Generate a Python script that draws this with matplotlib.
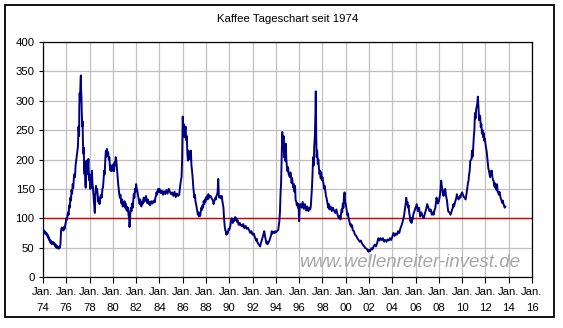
import numpy as np
import matplotlib
matplotlib.use("Agg")
import matplotlib.pyplot as plt
from matplotlib.patches import Rectangle

plt.rcParams["font.family"] = ["Liberation Sans", "DejaVu Sans"]

TITLE = "Kaffee Tageschart seit 1974"
WATERMARK = "www.wellenreiter-invest.de"

# coffee price (US cents / lb), time as decimal year
years = [
    1974.0, 1974.05, 1974.1, 1974.15, 1974.2, 1974.25, 1974.3, 1974.35, 1974.4, 1974.45,
    1974.5, 1974.55, 1974.6, 1974.65, 1974.7, 1974.75, 1974.8, 1974.85, 1974.9, 1974.95,
    1975.0, 1975.05, 1975.1, 1975.15, 1975.2, 1975.25, 1975.3, 1975.35, 1975.4, 1975.45,
    1975.5, 1975.55, 1975.6, 1975.65, 1975.7, 1975.75, 1975.8, 1975.85, 1975.9, 1975.95,
    1976.0, 1976.05, 1976.1, 1976.15, 1976.2, 1976.25, 1976.3, 1976.35, 1976.4, 1976.45,
    1976.5, 1976.55, 1976.6, 1976.65, 1976.7, 1976.75, 1976.8, 1976.85, 1976.9, 1976.95,
    1977.0, 1977.05, 1977.1, 1977.12, 1977.15, 1977.18, 1977.22, 1977.25, 1977.27, 1977.3,
    1977.33, 1977.37, 1977.4, 1977.43, 1977.47, 1977.5, 1977.53, 1977.57, 1977.6, 1977.63,
    1977.67, 1977.7, 1977.73, 1977.77, 1977.8, 1977.85, 1977.9, 1977.95,
    1978.0, 1978.05, 1978.1, 1978.15, 1978.2, 1978.25, 1978.3, 1978.35, 1978.4, 1978.45,
    1978.5, 1978.55, 1978.6, 1978.65, 1978.7, 1978.75, 1978.8, 1978.85, 1978.9, 1978.95,
    1979.0, 1979.05, 1979.1, 1979.15, 1979.2, 1979.25, 1979.3, 1979.35, 1979.4, 1979.45,
    1979.5, 1979.55, 1979.6, 1979.65, 1979.7, 1979.75, 1979.8, 1979.85, 1979.9, 1979.95,
    1980.0, 1980.05, 1980.1, 1980.15, 1980.2, 1980.25, 1980.3, 1980.35, 1980.4, 1980.45,
    1980.5, 1980.55, 1980.6, 1980.65, 1980.7, 1980.75, 1980.8, 1980.85, 1980.9, 1980.95,
    1981.0, 1981.05, 1981.1, 1981.15, 1981.2, 1981.25, 1981.3, 1981.35, 1981.4, 1981.43,
    1981.47, 1981.5, 1981.55, 1981.6, 1981.65, 1981.7, 1981.75, 1981.8, 1981.85, 1981.9, 1981.95,
    1982.0, 1982.05, 1982.1, 1982.15, 1982.2, 1982.25, 1982.3, 1982.35, 1982.4, 1982.45,
    1982.5, 1982.55, 1982.6, 1982.65, 1982.7, 1982.75, 1982.8, 1982.85, 1982.9, 1982.95,
    1983.0, 1983.1, 1983.15, 1983.2, 1983.3, 1983.4, 1983.5, 1983.6, 1983.65, 1983.7,
    1983.75, 1983.8, 1983.85, 1983.9, 1983.95,
    1984.0, 1984.1, 1984.2, 1984.3, 1984.4, 1984.5, 1984.6, 1984.7, 1984.8, 1984.9,
    1985.0, 1985.1, 1985.2, 1985.3, 1985.4, 1985.5, 1985.6, 1985.7, 1985.75, 1985.8,
    1985.85, 1985.9, 1985.95,
    1986.0, 1986.05, 1986.1, 1986.15, 1986.2, 1986.25, 1986.3, 1986.35, 1986.4, 1986.45,
    1986.5, 1986.55, 1986.6, 1986.65, 1986.7, 1986.75, 1986.8, 1986.85, 1986.9, 1986.95,
    1987.0, 1987.05, 1987.1, 1987.15, 1987.2, 1987.25, 1987.3, 1987.35, 1987.4, 1987.45,
    1987.5, 1987.55, 1987.6, 1987.65, 1987.7, 1987.75, 1987.8, 1987.85, 1987.9, 1987.95,
    1988.0, 1988.1, 1988.15, 1988.2, 1988.3, 1988.4, 1988.5, 1988.6, 1988.65, 1988.7,
    1988.8, 1988.85, 1988.9, 1988.95,
    1989.0, 1989.05, 1989.1, 1989.15, 1989.2, 1989.3, 1989.35, 1989.4, 1989.45, 1989.5,
    1989.55, 1989.6, 1989.65, 1989.7, 1989.75, 1989.8, 1989.85, 1989.9, 1989.95,
    1990.0, 1990.1, 1990.15, 1990.2, 1990.25, 1990.3, 1990.35, 1990.4, 1990.5, 1990.55,
    1990.6, 1990.65, 1990.7, 1990.8, 1990.9, 1990.95,
    1991.0, 1991.1, 1991.2, 1991.3, 1991.4, 1991.5, 1991.6, 1991.7, 1991.8, 1991.9,
    1992.0, 1992.1, 1992.2, 1992.3, 1992.35, 1992.4, 1992.5, 1992.6, 1992.65, 1992.7,
    1992.8, 1992.9, 1992.95,
    1993.0, 1993.05, 1993.1, 1993.2, 1993.25, 1993.3, 1993.4, 1993.5, 1993.6, 1993.65,
    1993.7, 1993.8, 1993.9, 1993.95,
    1994.0, 1994.1, 1994.2, 1994.3, 1994.35, 1994.4, 1994.45, 1994.5, 1994.55, 1994.58,
    1994.62, 1994.66, 1994.7, 1994.75, 1994.8, 1994.85, 1994.9, 1994.95,
    1995.0, 1995.05, 1995.1, 1995.2, 1995.25, 1995.3, 1995.35, 1995.4, 1995.45, 1995.5,
    1995.55, 1995.6, 1995.65, 1995.7, 1995.75, 1995.8, 1995.85, 1995.9, 1995.95,
    1996.0, 1996.05, 1996.1, 1996.2, 1996.3, 1996.4, 1996.5, 1996.6, 1996.7, 1996.8,
    1996.9, 1996.95,
    1997.0, 1997.05, 1997.1, 1997.15, 1997.2, 1997.25, 1997.3, 1997.35, 1997.4, 1997.43,
    1997.46, 1997.5, 1997.55, 1997.6, 1997.65, 1997.7, 1997.75, 1997.8, 1997.85, 1997.9,
    1997.95,
    1998.0, 1998.05, 1998.1, 1998.15, 1998.2, 1998.25, 1998.3, 1998.35, 1998.4, 1998.45,
    1998.5, 1998.55, 1998.6, 1998.7, 1998.8, 1998.9,
    1999.0, 1999.1, 1999.2, 1999.3, 1999.4, 1999.5, 1999.55, 1999.6, 1999.65, 1999.7,
    1999.75, 1999.8, 1999.85, 1999.9, 1999.95,
    2000.0, 2000.05, 2000.1, 2000.15, 2000.2, 2000.25, 2000.3, 2000.35, 2000.4, 2000.45,
    2000.5, 2000.55, 2000.6, 2000.7, 2000.8, 2000.9,
    2001.0, 2001.1, 2001.2, 2001.3, 2001.4, 2001.5, 2001.6, 2001.7, 2001.8, 2001.9, 2001.95,
    2002.0, 2002.1, 2002.2, 2002.3, 2002.4, 2002.5, 2002.6, 2002.7, 2002.8, 2002.9,
    2003.0, 2003.1, 2003.2, 2003.3, 2003.4, 2003.5, 2003.6, 2003.7, 2003.8, 2003.9,
    2004.0, 2004.1, 2004.2, 2004.3, 2004.4, 2004.5, 2004.6, 2004.7, 2004.8, 2004.9,
    2005.0, 2005.05, 2005.1, 2005.15, 2005.2, 2005.25, 2005.3, 2005.35, 2005.4, 2005.45,
    2005.5, 2005.55, 2005.6, 2005.65, 2005.7, 2005.75, 2005.8, 2005.9,
    2006.0, 2006.1, 2006.2, 2006.3, 2006.4, 2006.5, 2006.6, 2006.7, 2006.8, 2006.9,
    2007.0, 2007.1, 2007.2, 2007.3, 2007.4, 2007.5, 2007.55, 2007.6, 2007.7, 2007.8, 2007.9,
    2008.0, 2008.1, 2008.15, 2008.2, 2008.25, 2008.3, 2008.35, 2008.4, 2008.5, 2008.55,
    2008.6, 2008.7, 2008.75, 2008.8, 2008.9,
    2009.0, 2009.1, 2009.2, 2009.25, 2009.3, 2009.4, 2009.5, 2009.55, 2009.6, 2009.7,
    2009.8, 2009.85, 2009.9,
    2010.0, 2010.1, 2010.2, 2010.3, 2010.35, 2010.4, 2010.5, 2010.55, 2010.6, 2010.65,
    2010.7, 2010.8, 2010.85, 2010.9, 2010.95,
    2011.0, 2011.05, 2011.1, 2011.15, 2011.2, 2011.25, 2011.3, 2011.35, 2011.4, 2011.45,
    2011.5, 2011.55, 2011.6, 2011.65, 2011.7, 2011.75, 2011.8, 2011.85, 2011.9, 2011.95,
    2012.0, 2012.05, 2012.1, 2012.15, 2012.2, 2012.25, 2012.3, 2012.35, 2012.4, 2012.45,
    2012.5, 2012.55, 2012.6, 2012.65, 2012.7, 2012.75, 2012.8, 2012.85, 2012.9, 2012.95,
    2013.0, 2013.05, 2013.1, 2013.15, 2013.2, 2013.25, 2013.3, 2013.35, 2013.4, 2013.45,
    2013.5, 2013.55, 2013.6, 2013.65, 2013.7,
]

prices = [
    80, 76, 79, 74, 77, 73, 75, 70, 72, 66,
    68, 62, 64, 58, 61, 56, 60, 57, 59, 55,
    57, 52, 55, 50, 53, 49, 51, 48, 52, 50,
    56, 78, 84, 80, 83, 79, 85, 82, 88, 92,
    100, 97, 104, 110, 106, 122, 118, 135, 130, 148,
    142, 158, 152, 168, 175, 170, 190, 198, 205, 215,
    222, 256, 240, 290, 313, 300, 330, 343, 320, 307,
    280, 256, 265, 230, 210, 220, 185, 175, 190, 160,
    152, 170, 198, 175, 198, 185, 201, 165,
    175, 150, 170, 152, 181, 160, 149, 135, 120, 109,
    140, 155, 145, 150, 138, 128, 135, 124, 132, 138,
    140, 135, 150, 152, 165, 181, 175, 200, 215, 205,
    218, 210, 212, 200, 204, 185, 181, 190, 180, 187,
    183, 192, 180, 195, 190, 204, 198, 185, 170, 160,
    150, 141, 135, 140, 129, 125, 132, 120, 126, 124,
    129, 118, 125, 115, 120, 112, 118, 105, 100, 85,
    95, 110, 118, 112, 125, 118, 130, 141, 135, 150, 145,
    158, 150, 147, 140, 135, 129, 124, 132, 126, 120,
    128, 124, 130, 135, 128, 135, 132, 138, 130, 126,
    132, 124, 128, 122, 129, 125, 130, 127, 135, 138,
    144, 140, 147, 150, 145,
    150, 143, 147, 140, 146, 141, 148, 142, 150, 145,
    141, 144, 138, 145, 136, 142, 138, 140, 150, 158,
    165, 170, 200,
    273, 250, 260, 238, 250, 256, 233, 240, 210, 198,
    215, 205, 210, 200, 215, 190, 181, 170, 155, 145,
    135, 140, 128, 124, 118, 112, 106, 110, 103, 108,
    104, 112, 118, 114, 122, 118, 129, 124, 132, 128,
    135, 138, 132, 141, 135, 138, 133, 130, 124, 128,
    135, 132, 138, 140,
    145, 167, 140, 135, 138, 134, 138, 130, 124, 118,
    100, 88, 80, 78, 72, 76, 74, 78, 82,
    80, 88, 95, 100, 96, 92, 98, 95, 102, 97,
    100, 94, 97, 89, 92, 88,
    89, 86, 90, 83, 87, 82, 84, 80, 75, 78,
    72, 74, 68, 62, 65, 60, 56, 54, 52, 57,
    63, 70, 74,
    78, 72, 66, 57, 60, 56, 60, 65, 72, 78,
    74, 77, 75, 78,
    76, 78, 80, 95, 110, 141, 160, 200, 247, 230,
    221, 240, 204, 215, 198, 227, 200, 187,
    180, 187, 175, 170, 178, 173, 160, 168, 158, 152,
    158, 145, 155, 130, 129, 122, 126, 118, 124,
    95, 120, 124, 118, 128, 116, 124, 113, 120, 112,
    118, 115,
    120, 135, 152, 175, 204, 190, 224, 240, 280, 316,
    250, 204, 215, 193, 200, 185, 175, 181, 168, 178,
    165,
    170, 164, 158, 150, 155, 147, 138, 135, 129, 122,
    118, 124, 115, 120, 112, 118,
    113, 109, 115, 106, 100, 104, 98, 108, 115, 110,
    125, 118, 135, 144, 128,
    124, 118, 112, 105, 108, 100, 96, 92, 88, 90,
    85, 88, 80, 78, 72, 70,
    66, 63, 60, 62, 57, 54, 52, 49, 48, 45, 43,
    46, 44, 49, 47, 52, 55, 52, 58, 66, 62,
    66, 63, 66, 60, 63, 60, 64, 62, 66, 63,
    68, 75, 70, 74, 72, 78, 75, 83, 88, 95,
    103, 110, 118, 125, 135, 124, 128, 118, 122, 110,
    104, 95, 100, 92, 100, 98, 106, 112,
    118, 124, 112, 118, 103, 110, 104, 100, 108, 115,
    124, 118, 112, 115, 106, 110, 106, 112, 118, 135, 125,
    129, 140, 150, 164, 155, 150, 141, 138, 148, 150,
    140, 130, 120, 112, 110,
    106, 112, 118, 124, 120, 128, 135, 141, 135, 132,
    138, 135, 140,
    144, 138, 135, 132, 138, 145, 160, 164, 175, 181,
    198, 200, 215, 205, 220,
    238, 250, 279, 270, 285, 290, 295, 307, 290, 267,
    275, 273, 255, 260, 244, 250, 238, 245, 232, 236,
    227, 220, 215, 205, 195, 185, 181, 175, 170, 180,
    175, 181, 170, 165, 164, 155, 160, 152, 156, 148,
    158, 145, 144, 140, 145, 141, 135, 132, 129, 126,
    130, 124, 122, 118, 120,
]

reference_level = 100
y_ticks = [0, 50, 100, 150, 200, 250, 300, 350, 400]
x_ticks = list(range(1974, 2017, 2))
x_labels = ["Jan.\n" + str(y)[2:] for y in x_ticks]

fig = plt.figure(figsize=(5.63, 3.28), dpi=100)
fig.patch.set_facecolor("white")

# outer frame around the whole chart
fig.patches.append(Rectangle((5 / 563, 11 / 328), 549 / 563, 312 / 328,
                             transform=fig.transFigure, fill=False,
                             edgecolor="black", linewidth=1.3))

ax = fig.add_axes([43 / 563, 51 / 328, 489 / 563, 235 / 328])

ax.plot(years, prices, color="#000080", linewidth=1.4, zorder=3)
ax.axhline(reference_level, color="#d00000", linewidth=1.0, zorder=2)

ax.set_xlim(1974, 2016)
ax.set_ylim(0, 400)
ax.set_xticks(x_ticks)
ax.set_xticklabels(x_labels, fontsize=8.2, linespacing=1.75)
ax.set_yticks(y_ticks)
ax.tick_params(axis="y", labelsize=8.2, length=3, pad=3, width=0.8)
ax.tick_params(axis="x", length=4, pad=3, width=0.8)

ax.grid(True, color="#c0c0c0", linewidth=0.9, zorder=0)
ax.set_axisbelow(True)
for side in ax.spines.values():
    side.set_color("black")
    side.set_linewidth(0.9)

ax.text(0.975, 0.06, WATERMARK, transform=ax.transAxes, ha="right", va="center",
        fontsize=13.5, style="italic", color="#a6a6a6", zorder=1)

fig.text(288 / 563, 1 - 19 / 328, TITLE, ha="center", va="center", fontsize=8.2)

fig.savefig("out.png", dpi=100, facecolor="white")
